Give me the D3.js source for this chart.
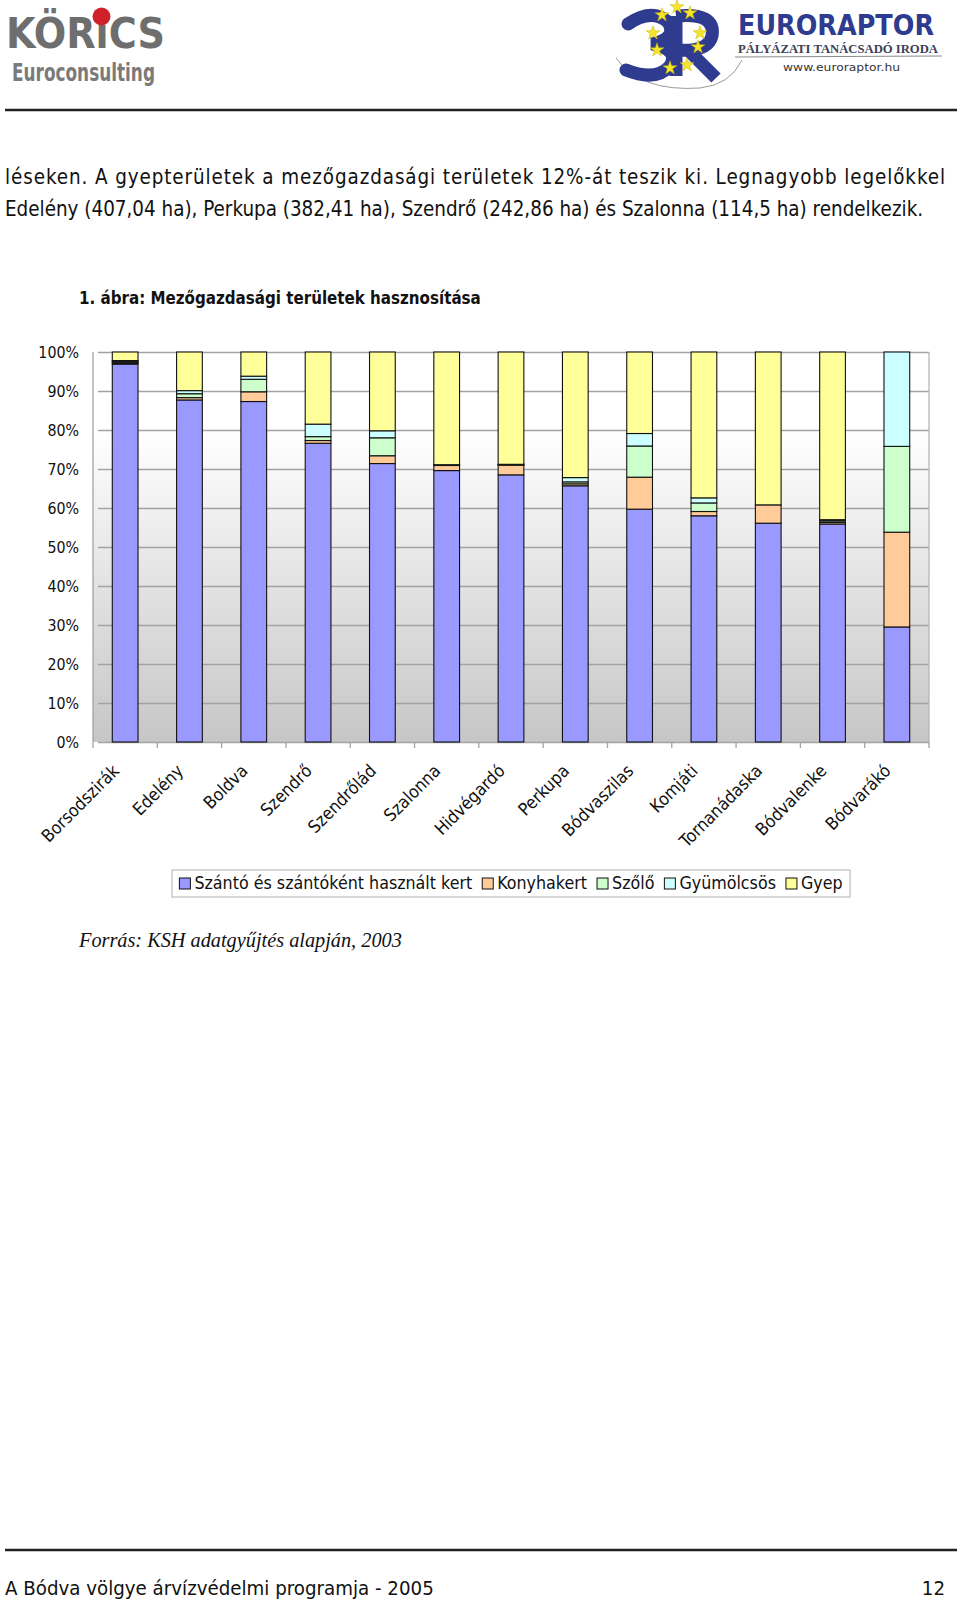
<!DOCTYPE html>
<html>
<head>
<meta charset="utf-8">
<script src="https://cdn.jsdelivr.net/npm/d3@7"></script>
<style>
  body { margin: 0; background: #fff; }
  svg { display: block; }
</style>
</head>
<body>
<div id="page"></div>
<script>
const categories = ["Borsodszirák", "Edelény", "Boldva", "Szendrő", "Szendrőlád", "Szalonna",
  "Hidvégardó", "Perkupa", "Bódvaszilas", "Komjáti", "Tornanádaska", "Bódvalenke", "Bódvarákó"];

const szanto     = [96.9, 87.7, 87.3, 76.6, 71.4, 69.6, 68.5, 65.7, 59.7, 58.0, 56.1, 55.9, 29.5];
const konyhakert = [0.3, 0.6, 2.5, 0.7, 2.0, 1.3, 2.5, 0.5, 8.2, 1.1, 4.7, 0.4, 24.3];
const szolo      = [0.3, 1.0, 3.2, 1.0, 4.6, 0.1, 0.1, 0.5, 8.0, 2.2, 0.0, 0.4, 22.0];
const gyumolcsos = [0.3, 0.8, 0.8, 3.2, 1.8, 0.1, 0.1, 1.1, 3.2, 1.3, 0.0, 0.3, 24.2];
const gyep       = [2.2, 9.9, 6.2, 18.5, 20.2, 28.9, 28.8, 32.2, 20.9, 37.4, 39.2, 43.0, 0.0];

const seriesNames = ["Szántó és szántóként használt kert", "Konyhakert", "Szőlő", "Gyümölcsös", "Gyep"];
const seriesValues = [szanto, konyhakert, szolo, gyumolcsos, gyep];
const yTicks = [0, 10, 20, 30, 40, 50, 60, 70, 80, 90, 100];

const width = 960;
const height = 1602;
const sans = "'DejaVu Sans Condensed', 'DejaVu Sans', sans-serif";

const svg = d3.select("#page").append("svg")
  .attr("width", width)
  .attr("height", height);

svg.append("rect").attr("width", width).attr("height", height).attr("fill", "#fff");

// shrink/grow a text node's font so it spans the given width
function fitText(sel, target) {
  const w = sel.node().getComputedTextLength();
  const fs = parseFloat(sel.attr("font-size"));
  sel.attr("font-size", fs * target / w);
}

// ---- header logos ----
const korics = svg.append("g");
korics.append("text")
  .attr("x", 6).attr("y", 48)
  .attr("font-family", "'Liberation Sans Narrow', 'DejaVu Sans Condensed', sans-serif")
  .attr("font-weight", "bold")
  .attr("font-size", 42)
  .attr("fill", "#6e6e6e")
  .attr("textLength", 159).attr("lengthAdjust", "spacingAndGlyphs")
  .text("KÖRıCS");
korics.append("circle").attr("cx", 101.5).attr("cy", 16.5).attr("r", 9).attr("fill", "#d0202a");
korics.append("text")
  .attr("x", 12).attr("y", 81)
  .attr("font-family", "'Liberation Sans Narrow', 'DejaVu Sans Condensed', sans-serif")
  .attr("font-weight", "bold")
  .attr("font-size", 24)
  .attr("fill", "#7a7a7a")
  .attr("textLength", 143).attr("lengthAdjust", "spacingAndGlyphs")
  .text("Euroconsulting");

const euro = svg.append("g");
euro.append("path")
  .attr("d", "M616,58 Q640,92 700,88 Q730,85 742,60")
  .attr("fill", "none").attr("stroke", "#9a9a9a").attr("stroke-width", 1);
// the "3R" emblem
euro.append("path")
  .attr("d", "M628,24 Q652,8 668,22 Q678,38 652,44 Q680,50 670,66 Q656,82 626,70")
  .attr("fill", "none").attr("stroke", "#2e3b8f").attr("stroke-width", 13)
  .attr("stroke-linecap", "round");
euro.append("path")
  .attr("d", "M676,16 L676,76 M676,16 Q716,12 712,36 Q708,52 678,50 M688,50 L716,78")
  .attr("fill", "none").attr("stroke", "#2e3b8f").attr("stroke-width", 13)
  .attr("stroke-linejoin", "round");
const starPts = [[662, 15], [677, 7], [690, 13], [653, 33], [700, 33], [657, 50], [698, 47], [670, 68], [687, 65]];
const star = d3.symbol().type(d3.symbolStar).size(60);
euro.selectAll("path.star")
  .data(starPts)
  .join("path")
  .attr("class", "star")
  .attr("transform", d => `translate(${d[0]},${d[1]})`)
  .attr("d", star)
  .attr("fill", "#f5e62a")
  .attr("stroke", "#c9b400").attr("stroke-width", 0.5);
euro.append("text")
  .attr("x", 738).attr("y", 35)
  .attr("font-family", "'DejaVu Sans', sans-serif")
  .attr("font-weight", "bold")
  .attr("font-size", 29)
  .attr("fill", "#2e3b8f")
  .attr("textLength", 196).attr("lengthAdjust", "spacingAndGlyphs")
  .text("EURORAPTOR");
euro.append("text")
  .attr("x", 738).attr("y", 53)
  .attr("font-family", "'Liberation Serif', serif")
  .attr("font-weight", "bold")
  .attr("font-size", 11.5)
  .attr("fill", "#3d4056")
  .attr("textLength", 200).attr("lengthAdjust", "spacingAndGlyphs")
  .text("PÁLYÁZATI TANÁCSADÓ IRODA");
euro.append("line")
  .attr("x1", 735).attr("x2", 942).attr("y1", 57).attr("y2", 56)
  .attr("stroke", "#8a8a8a").attr("stroke-width", 1);
euro.append("text")
  .attr("x", 783).attr("y", 71)
  .attr("font-family", "'DejaVu Sans', sans-serif")
  .attr("font-size", 11)
  .attr("fill", "#333")
  .attr("textLength", 117).attr("lengthAdjust", "spacingAndGlyphs")
  .text("www.euroraptor.hu");

svg.append("line")
  .attr("x1", 5).attr("x2", 957).attr("y1", 110).attr("y2", 110)
  .attr("stroke", "#222").attr("stroke-width", 2.5);

// ---- paragraph ----
const line2 = svg.append("text")
  .attr("x", 5).attr("y", 216)
  .attr("font-family", sans).attr("font-size", 18).attr("fill", "#111")
  .text("Edelény (407,04 ha), Perkupa (382,41 ha), Szendrő (242,86 ha) és Szalonna (114,5 ha) rendelkezik.");
fitText(line2, 919);
svg.append("text")
  .attr("x", 5).attr("y", 184)
  .attr("font-family", sans).attr("font-size", line2.attr("font-size")).attr("fill", "#111")
  .attr("textLength", 940).attr("lengthAdjust", "spacing")
  .text("léseken. A gyepterületek a mezőgazdasági területek 12%-át teszik ki. Legnagyobb legelőkkel");

const title = svg.append("text")
  .attr("x", 79).attr("y", 304)
  .attr("font-family", sans).attr("font-weight", "bold").attr("font-size", 16).attr("fill", "#111")
  .text("1. ábra: Mezőgazdasági területek hasznosítása");
fitText(title, 402);

// ---- chart ----
const plot = { left: 93, right: 929, top: 352, bottom: 742 };

const x = d3.scaleBand()
  .domain(categories)
  .range([plot.left, plot.right])
  .padding(0);

const y = d3.scaleLinear()
  .domain([0, 1])
  .range([plot.bottom, plot.top]);

const color = d3.scaleOrdinal()
  .domain(seriesNames)
  .range(["#9999ff", "#ffcc99", "#ccffcc", "#ccffff", "#ffff99"]);

const rows = categories.map((c, i) => {
  const r = { cat: c };
  seriesNames.forEach((s, k) => { r[s] = seriesValues[k][i]; });
  return r;
});

const stacked = d3.stack()
  .keys(seriesNames)
  .offset(d3.stackOffsetExpand)(rows);

const grad = svg.append("defs").append("linearGradient")
  .attr("id", "plotbg")
  .attr("x1", 0).attr("x2", 0).attr("y1", 0).attr("y2", 1);
grad.append("stop").attr("offset", "0%").attr("stop-color", "#ffffff");
grad.append("stop").attr("offset", "20%").attr("stop-color", "#ffffff");
grad.append("stop").attr("offset", "100%").attr("stop-color", "#c6c6c6");

svg.append("rect")
  .attr("x", plot.left).attr("y", plot.top)
  .attr("width", plot.right - plot.left).attr("height", plot.bottom - plot.top)
  .attr("fill", "url(#plotbg)");

// gridlines + y labels
svg.append("g")
  .attr("transform", `translate(${plot.left},0)`)
  .call(d3.axisLeft(y.copy().domain([0, 100]))
    .tickValues(yTicks)
    .tickSize(-(plot.right - plot.left))
    .tickPadding(14)
    .tickFormat(d => d + "%"))
  .call(g => g.select(".domain").remove())
  .call(g => g.selectAll(".tick line")
    .attr("x1", 5)
    .attr("stroke", "#a3a3a3").attr("stroke-width", 1.3))
  .call(g => g.selectAll(".tick text")
    .attr("font-family", sans).attr("font-size", 15.8).attr("fill", "#111"));

// plot frame
svg.append("line")
  .attr("x1", plot.left).attr("x2", plot.left).attr("y1", plot.top).attr("y2", plot.bottom)
  .attr("stroke", "#a3a3a3").attr("stroke-width", 1.3);
svg.append("line")
  .attr("x1", plot.right).attr("x2", plot.right).attr("y1", plot.top).attr("y2", plot.bottom)
  .attr("stroke", "#b5b5b5").attr("stroke-width", 1.3);

// category tick marks at band edges
svg.append("g")
  .selectAll("line")
  .data(d3.range(categories.length + 1))
  .join("line")
  .attr("x1", i => plot.left + i * x.step())
  .attr("x2", i => plot.left + i * x.step())
  .attr("y1", plot.bottom)
  .attr("y2", plot.bottom + 6)
  .attr("stroke", "#a3a3a3").attr("stroke-width", 1.3);

// bars
const barW = x.bandwidth() / 2.5;
svg.append("g")
  .selectAll("g")
  .data(stacked)
  .join("g")
  .attr("fill", d => color(d.key))
  .selectAll("rect")
  .data(d => d.filter(s => s[1] - s[0] > 0))
  .join("rect")
  .attr("x", d => x(d.data.cat) + x.bandwidth() / 2 - barW / 2)
  .attr("y", d => y(d[1]))
  .attr("width", barW)
  .attr("height", d => y(d[0]) - y(d[1]))
  .attr("stroke", "#111")
  .attr("stroke-width", 1.1);

// rotated category labels
svg.append("g")
  .selectAll("text")
  .data(categories)
  .join("text")
  .attr("transform", d => `translate(${x(d) + x.bandwidth() / 2 - 5},${plot.bottom + 30}) rotate(-45)`)
  .attr("text-anchor", "end")
  .attr("font-family", sans)
  .attr("font-size", 17.5)
  .attr("fill", "#111")
  .text(d => d);

// legend
const legendBox = { left: 172, right: 850, top: 870, bottom: 897 };
svg.append("rect")
  .attr("x", legendBox.left).attr("y", legendBox.top)
  .attr("width", legendBox.right - legendBox.left)
  .attr("height", legendBox.bottom - legendBox.top)
  .attr("fill", "#fff").attr("stroke", "#b0b0b0").attr("stroke-width", 1);
const legend = svg.append("g");
const legendFont = 17.7;
let lx = 0;
seriesNames.forEach(name => {
  const g = legend.append("g").attr("transform", `translate(${lx},0)`);
  g.append("rect")
    .attr("x", 0).attr("y", -11).attr("width", 11).attr("height", 11)
    .attr("fill", color(name)).attr("stroke", "#111").attr("stroke-width", 1);
  const t = g.append("text")
    .attr("x", 15).attr("y", 0)
    .attr("font-family", sans).attr("font-size", legendFont).attr("fill", "#111")
    .text(name);
  lx += 15 + t.node().getComputedTextLength() + 10;
});
const legendW = lx - 10;
const legendX = (legendBox.left + legendBox.right) / 2 - legendW / 2;
legend.attr("transform", `translate(${legendX},${legendBox.bottom - 8})`);

// source note
const source = svg.append("text")
  .attr("x", 79).attr("y", 947)
  .attr("font-family", "'Liberation Serif', serif")
  .attr("font-style", "italic")
  .attr("font-size", 20)
  .attr("fill", "#111")
  .text("Forrás: KSH adatgyűjtés alapján, 2003");
fitText(source, 323);

// ---- footer ----
svg.append("line")
  .attr("x1", 5).attr("x2", 957).attr("y1", 1550).attr("y2", 1550)
  .attr("stroke", "#222").attr("stroke-width", 2.5);
const foot = svg.append("text")
  .attr("x", 5).attr("y", 1595)
  .attr("font-family", sans).attr("font-size", 18).attr("fill", "#111")
  .text("A Bódva völgye árvízvédelmi programja - 2005");
fitText(foot, 429);
svg.append("text")
  .attr("x", 945).attr("y", 1595)
  .attr("text-anchor", "end")
  .attr("font-family", sans).attr("font-size", foot.attr("font-size")).attr("fill", "#111")
  .text("12");
</script>
</body>
</html>
